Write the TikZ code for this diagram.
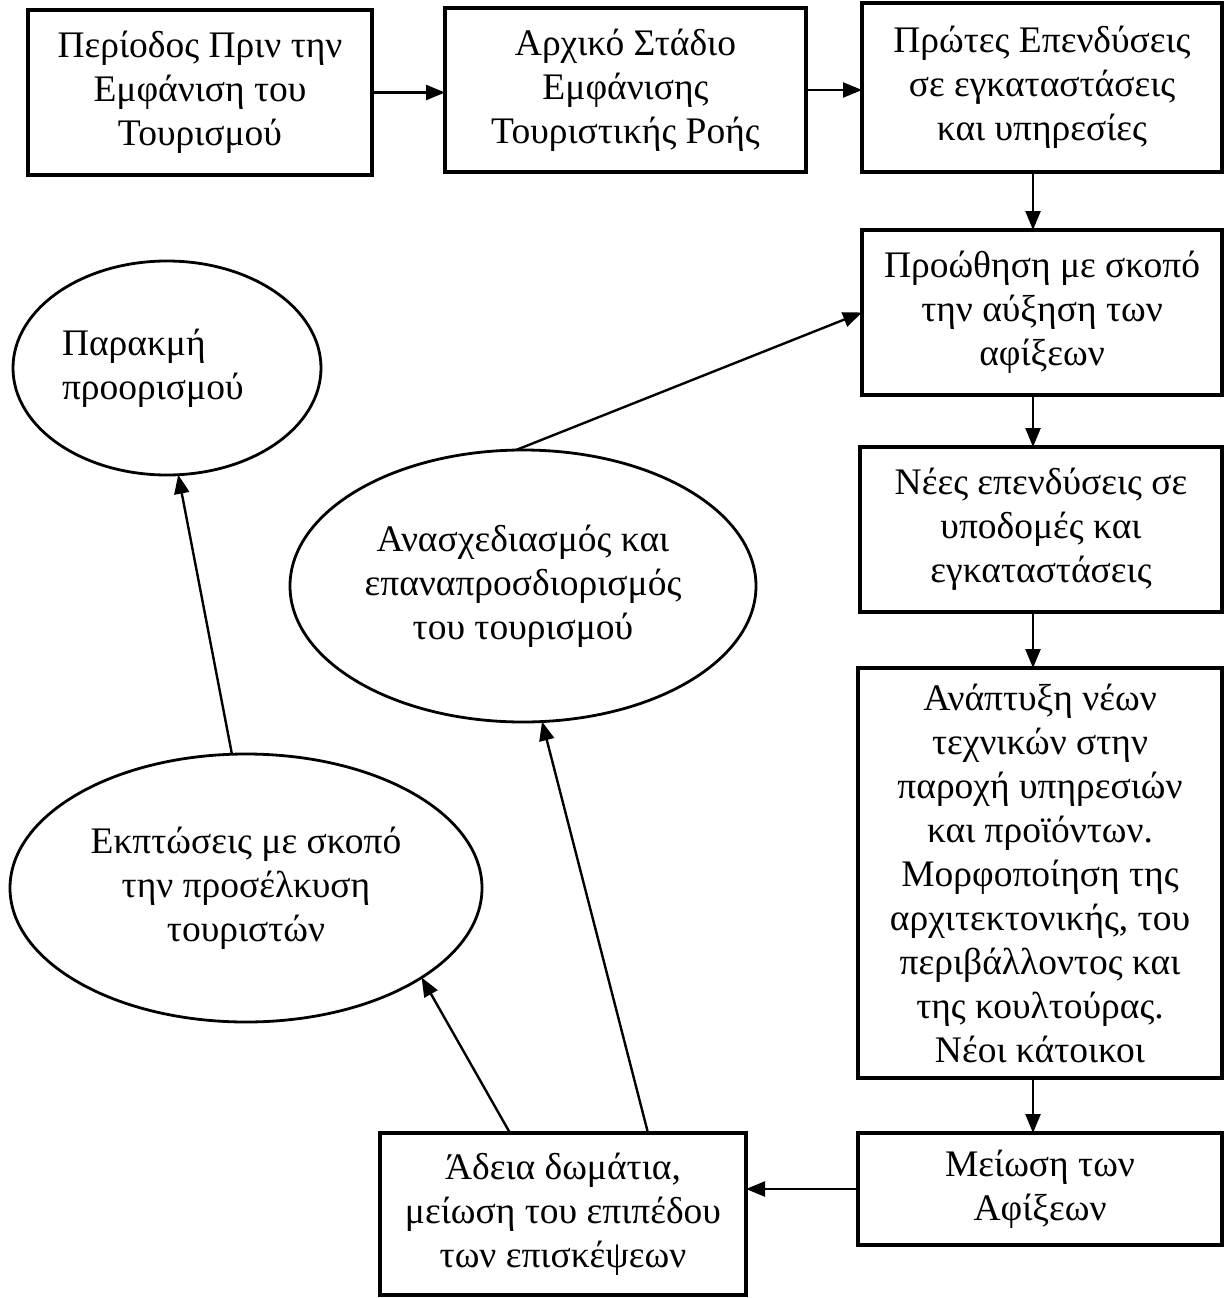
\documentclass[tikz,border=0pt]{standalone}
\usepackage{fontspec}
\setmainfont{Liberation Serif}
\usetikzlibrary{shapes.geometric,arrows.meta}
\begin{document}
\begin{tikzpicture}[x=1pt,y=-1pt,
  every node/.style={font=\fontsize{37.5}{44}\selectfont},
  stagebox/.style={draw,line width=3.2pt,rectangle,align=center,inner sep=0pt,outer sep=0pt},
  stageoval/.style={draw,line width=2.8pt,ellipse,align=center,inner sep=0pt,outer sep=0pt},
  arr/.style={line width=2.4pt,-{Triangle[length=19pt,width=15pt]}}
]
\useasboundingbox (0,0) rectangle (1225,1298);
\fill[white] (0,0) rectangle (1225,1298);

\node[stagebox,minimum width=344pt,minimum height=165pt] (b1) at (200,92.5)
  {Περίοδος Πριν την\\Εμφάνιση του\\Τουρισμού};
\node[stagebox,minimum width=361pt,minimum height=164pt] (b2) at (625.5,90)
  {Αρχικό Στάδιο\\Εμφάνισης\\Τουριστικής Ροής};
\node[stagebox,minimum width=360pt,minimum height=169pt] (b3) at (1042,87.5)
  {Πρώτες Επενδύσεις\\σε εγκαταστάσεις\\και υπηρεσίες};
\node[stagebox,minimum width=360pt,minimum height=165pt] (b4) at (1042,312.5)
  {Προώθηση με σκοπό\\την αύξηση των\\αφίξεων};
\node[stagebox,minimum width=362pt,minimum height=165pt] (b5) at (1041,529.5)
  {Νέες επενδύσεις σε\\υποδομές και\\εγκαταστάσεις};
\node[stagebox,minimum width=364pt,minimum height=410pt] (b6) at (1040,873)
  {Ανάπτυξη νέων\\τεχνικών στην\\παροχή υπηρεσιών\\και προϊόντων.\\Μορφοποίηση της\\αρχιτεκτονικής, του\\περιβάλλοντος και\\της κουλτούρας.\\Νέοι κάτοικοι};
\node[stagebox,minimum width=364pt,minimum height=112pt] (b7) at (1040,1189)
  {Μείωση των\\Αφίξεων};
\node[stagebox,minimum width=366pt,minimum height=162pt] (b8) at (563,1214)
  {Άδεια δωμάτια,\\μείωση του επιπέδου\\των επισκέψεων};

\node[stageoval,minimum width=308pt,minimum height=214pt,text width=210pt,align=left] (e1) at (167,368)
  {Παρακμή\\προορισμού};
\node[stageoval,minimum width=466pt,minimum height=272pt] (e2) at (523,586)
  {Ανασχεδιασμός και\\επαναπροσδιορισμός\\του τουρισμού};
\node[stageoval,minimum width=472pt,minimum height=268pt] (e3) at (246,888)
  {Εκπτώσεις με σκοπό\\την προσέλκυση\\τουριστών};

\draw[arr] (b1.east) -- (b1.east -| b2.west);
\draw[arr] (b2.east) -- (b2.east -| b3.west);
\draw[arr] ([xshift=-9pt]b3.south) -- ([xshift=-9pt]b3.south |- b4.north);
\draw[arr] ([xshift=-9pt]b4.south) -- ([xshift=-9pt]b4.south |- b5.north);
\draw[arr] ([xshift=-8pt]b5.south) -- ([xshift=-8pt]b5.south |- b6.north);
\draw[arr] ([xshift=-7pt]b6.south) -- ([xshift=-7pt]b6.south |- b7.north);
\draw[arr] (b7.west) -- (b7.west -| b8.east);
\draw[arr] ([xshift=-53pt]b8.north) -- (e3.-27);
\draw[arr] ([xshift=85pt]b8.north) -- (e2.-82);
\draw[arr] (e2.93) -- (b4.west);
\draw[arr] (e3.96) -- (e1.-84);
\end{tikzpicture}
\end{document}
